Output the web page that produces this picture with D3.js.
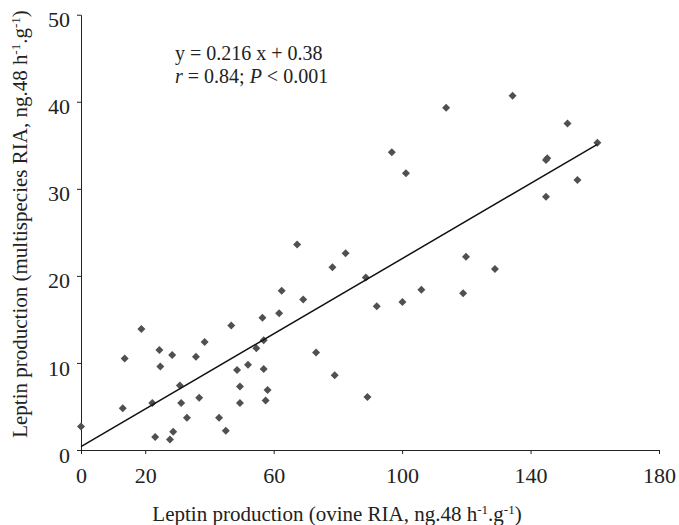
<!DOCTYPE html>
<html>
<head>
<meta charset="utf-8">
<script src="https://cdn.jsdelivr.net/npm/d3@7"></script>
<style>
  html, body { margin: 0; padding: 0; background: #fff; }
  svg { display: block; font-family: "Liberation Serif", "Times New Roman", serif; }
</style>
</head>
<body>
<svg id="chart" width="679" height="525"></svg>
<script>
// Leptin production, ovine RIA (x) vs multispecies RIA (y), ng.48 h-1.g-1
var ovine = [
  0, 13.0, 13.6, 18.8, 22.2, 23.1, 24.4, 24.7, 27.7, 28.4,
  28.7, 30.8, 31.2, 33.0, 35.8, 36.8, 38.5, 43.0, 45.1, 46.8,
  48.6, 49.5, 49.5, 52.0, 54.6, 56.5, 56.9, 56.9, 57.5, 58.1,
  61.7, 62.5, 67.3, 69.2, 73.2, 78.3, 79.0, 82.4, 88.7, 89.2,
  92.1, 96.8, 100.1, 101.2, 106.0, 113.7, 119.0, 119.9, 128.9, 134.4,
  144.8, 145.2, 144.8, 151.5, 154.6, 160.8
];
var multispecies = [
  2.7, 4.8, 10.5, 13.9, 5.4, 1.5, 11.5, 9.6, 1.2, 10.9,
  2.1, 7.4, 5.4, 3.7, 10.7, 6.0, 12.4, 3.7, 2.2, 14.3,
  9.2, 7.3, 5.4, 9.8, 11.7, 15.2, 12.6, 9.3, 5.7, 6.9,
  15.7, 18.3, 23.6, 17.3, 11.2, 21.0, 8.6, 22.6, 19.8, 6.1,
  16.5, 34.2, 17.0, 31.8, 18.4, 39.3, 18.0, 22.2, 20.8, 40.7,
  33.3, 33.5, 29.1, 37.5, 31.0, 35.3
];

var xTicks = [0, 20, 60, 100, 140, 180];
var yTicks = [0, 10, 20, 30, 40, 50];

// regression: y = 0.216 x + 0.38, drawn over 0..160
var slope = 0.216;
var intercept = 0.38;
var fitRange = [0, 160.8];

var svg = d3.select("#chart");

var x = d3.scaleLinear().domain([0, 180]).range([81, 659]);
var y = d3.scaleLinear().domain([0, 50]).range([450, 14.7]);

var ink = "#222";

// axes
var xAxis = d3.axisBottom(x)
  .tickValues(xTicks)
  .tickSize(4)
  .tickSizeOuter(0)
  .tickFormat(d3.format("d"));

var yAxis = d3.axisLeft(y)
  .tickValues(yTicks)
  .tickSize(4)
  .tickSizeOuter(0)
  .tickFormat(d3.format("d"));

var gx = svg.append("g")
  .attr("transform", "translate(0," + y(0) + ")")
  .call(xAxis);

var gy = svg.append("g")
  .attr("transform", "translate(" + x(0) + ",0)")
  .call(yAxis);

[gx, gy].forEach(function (g) {
  g.select(".domain").attr("stroke", ink).attr("stroke-width", 1);
  g.selectAll(".tick line").attr("stroke", ink);
  g.selectAll(".tick text")
    .attr("fill", ink)
    .style("font-family", "Liberation Serif")
    .style("font-size", "22px");
});

gx.selectAll(".tick text").attr("y", 17).attr("dy", "0.71em");
gy.selectAll(".tick text").attr("x", -11).attr("dy", "0.55em");

// points
var diamond = d3.symbol().type(d3.symbolSquare).size(32);

svg.append("g")
  .selectAll("path")
  .data(d3.range(ovine.length))
  .enter().append("path")
  .attr("d", diamond)
  .attr("transform", function (i) {
    return "translate(" + x(ovine[i]) + "," + y(multispecies[i]) + ") rotate(45)";
  })
  .attr("fill", "#505050");

// fitted line
var line = d3.line()
  .x(function (d) { return x(d); })
  .y(function (d) { return y(slope * d + intercept); });

svg.append("path")
  .datum(fitRange)
  .attr("d", line)
  .attr("fill", "none")
  .attr("stroke", "#111")
  .attr("stroke-width", 1.5);

// equation
var eq = svg.append("text")
  .attr("x", 175)
  .attr("y", 60)
  .attr("fill", ink)
  .style("font-size", "20px");
eq.append("tspan").text("y = 0.216 x + 0.38");

var stat = svg.append("text")
  .attr("x", 175)
  .attr("y", 83)
  .attr("fill", ink)
  .style("font-size", "20px");
stat.append("tspan").style("font-style", "italic").text("r");
stat.append("tspan").text(" = 0.84; ");
stat.append("tspan").style("font-style", "italic").text("P");
stat.append("tspan").text(" < 0.001");

// axis titles with superscripts
function unitLabel(sel, prefix) {
  sel.append("tspan").text(prefix + ", ng.48 h");
  sel.append("tspan").attr("baseline-shift", "super").style("font-size", "13px").text("-1");
  sel.append("tspan").text(".g");
  sel.append("tspan").attr("baseline-shift", "super").style("font-size", "13px").text("-1");
  sel.append("tspan").text(")");
}

var xTitle = svg.append("text")
  .attr("x", 337)
  .attr("y", 521)
  .attr("text-anchor", "middle")
  .attr("fill", ink)
  .style("font-size", "21px");
unitLabel(xTitle, "Leptin production (ovine RIA");

var yTitle = svg.append("text")
  .attr("transform", "translate(27,224) rotate(-90)")
  .attr("text-anchor", "middle")
  .attr("fill", ink)
  .style("font-size", "21px");
unitLabel(yTitle, "Leptin production (multispecies RIA");
</script>
</body>
</html>
